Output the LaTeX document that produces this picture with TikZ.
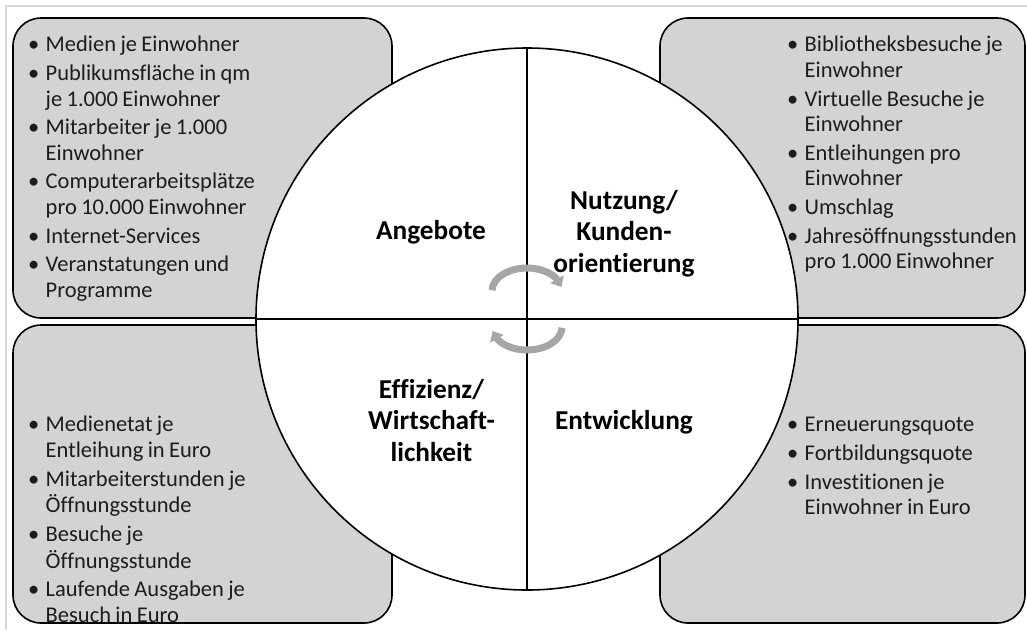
\documentclass[tikz,border=0pt]{standalone}
\usepackage{fontspec}
\setmainfont{Carlito}[Ligatures=NoCommon]
\usetikzlibrary{arrows.meta,bending}

\definecolor{panelgray}{RGB}{211,211,211}
\definecolor{framegray}{RGB}{216,216,216}
\definecolor{turngray}{RGB}{166,166,166}
\definecolor{bodytext}{RGB}{28,28,28}

% one bulleted entry with a hanging indent
\newcommand\listitem{\par\noindent\hangindent=17.5pt\hangafter=1\strut\hbox to 17.5pt{\textbullet\hfil}}

\begin{document}
\begin{tikzpicture}[x=1pt,y=-1pt,
  panel/.style={draw=black,line width=1.6pt,fill=panelgray,rounded corners=28pt},
  wheel/.style={circle,draw=black,line width=1.6pt,fill=white,minimum size=542pt,inner sep=0pt},
  divider/.style={draw=black,line width=1.6pt},
  turnarrow/.style={draw=turngray,line width=7pt,-{Triangle[width=15pt,length=9pt]}},
  heading/.style={font=\fontsize{27.3}{31.5}\selectfont\bfseries,text width=220pt,align=center,
    anchor=north,inner sep=0pt,execute at begin node=\strut},
  itemlist/.style={font=\fontsize{22.5}{25.6}\selectfont,text=bodytext,text width=330pt,align=left,
    anchor=north west,inner sep=0pt,
    execute at begin node={\setlength{\parskip}{3pt}\spaceskip=4.4pt plus 2pt minus 1pt}}]

\useasboundingbox (0,0) rectangle (1027,630);

% thin page frame
\draw[framegray,line width=1.2pt] (6,630) -- (6,6) -- (1027,6);

% four grey panels behind the wheel
\draw[panel] (13,18) rectangle (392,318);
\draw[panel] (660,18) rectangle (1025,318);
\draw[panel] (13,325) rectangle (392,623);
\draw[panel] (660,325) rectangle (1025,623);

% the wheel and its quadrants
\node[wheel] (wheel) at (527,319) {};
\draw[divider] (wheel.north) -- (wheel.south);
\draw[divider] (wheel.west) -- (wheel.east);

% circular arrows at the hub
\draw[turnarrow] (492,290.2) arc[start angle=178,end angle=10,x radius=35pt,y radius=23pt];
\draw[turnarrow] (562,327.8) arc[start angle=-2,end angle=-170,x radius=35pt,y radius=23pt];

% quadrant titles
\node[heading] (angebote) at (431,217) {Angebote};
\node[heading] (nutzung) at (624,187) {Nutzung/\\Kunden-\\orientierung};
\node[heading] (effizienz) at (431.5,376) {Effizienz/\\Wirtschaft-\\lichkeit};
\node[heading] (entwicklung) at (624,407) {Entwicklung};

% indicator lists
\node[itemlist] (listangebote) at (28,23) {%
\listitem Medien je Einwohner
\listitem Publikumsfläche in qm\newline je 1.000 Einwohner
\listitem Mitarbeiter je 1.000\newline Einwohner
\listitem Computerarbeitsplätze\newline pro 10.000 Einwohner
\listitem Internet-Services
\listitem Veranstatungen und\newline Programme\par};

\node[itemlist] (listnutzung) at (787,23) {%
\listitem Bibliotheksbesuche je\newline Einwohner
\listitem Virtuelle Besuche je\newline Einwohner
\listitem Entleihungen pro\newline Einwohner
\listitem Umschlag
\listitem Jahresöffnungsstunden\newline pro 1.000 Einwohner\par};

\node[itemlist] (listeffizienz) at (28,403) {%
\listitem Medienetat je\newline Entleihung in Euro
\listitem Mitarbeiterstunden je\newline Öffnungsstunde
\listitem Besuche je\newline Öffnungsstunde
\listitem Laufende Ausgaben je\newline Besuch in Euro\par};

\node[itemlist] (listentwicklung) at (787,403) {%
\listitem Erneuerungsquote
\listitem Fortbildungsquote
\listitem Investitionen je\newline Einwohner in Euro\par};

\end{tikzpicture}
\end{document}
